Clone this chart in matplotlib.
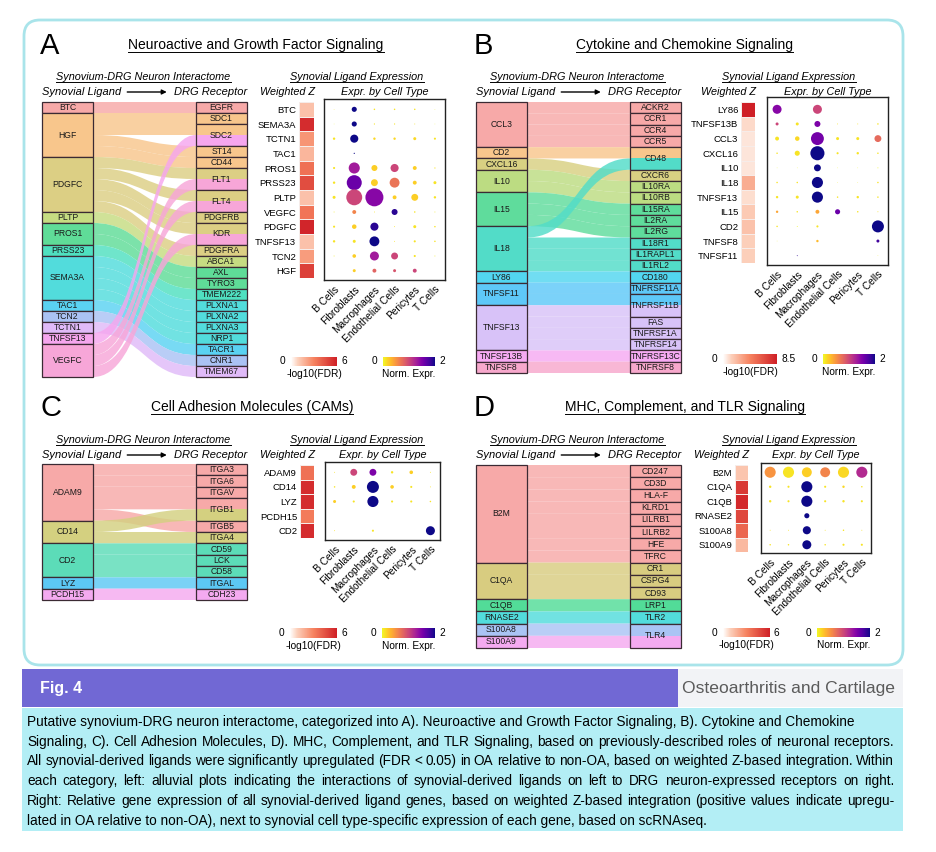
import numpy as np
import matplotlib
matplotlib.use("Agg")
import matplotlib.pyplot as plt
from matplotlib.path import Path
from matplotlib.patches import PathPatch, Rectangle, FancyBboxPatch
from matplotlib.colors import LinearSegmentedColormap, Normalize
from matplotlib.cm import ScalarMappable
from matplotlib import font_manager

plt.rcParams['font.family'] = 'Liberation Sans'

# ---------------- data ----------------
cell_types = ["B Cells", "Fibroblasts", "Macrophages", "Endothelial Cells", "Pericytes", "T Cells"]

# A: Neuroactive and Growth Factor Signaling
ligands_A = ["BTC", "HGF", "PDGFC", "PLTP", "PROS1", "PRSS23", "SEMA3A", "TAC1", "TCN2", "TCTN1", "TNFSF13", "VEGFC"]
colors_A = ["#f7a9a8", "#f8c68c", "#dccf84", "#c6dc82", "#5fdc98", "#4fe0c0", "#52dcdc", "#5ad2f2",
            "#aac2f4", "#e0baf8", "#f6a6ee", "#f7a6d8"]
receptors_A = ["EGFR", "SDC1", "SDC2", "ST14", "CD44", "FLT1", "FLT4", "PDGFRB", "KDR", "PDGFRA", "ABCA1",
               "AXL", "TYRO3", "TMEM222", "PLXNA1", "PLXNA2", "PLXNA3", "NRP1", "TACR1", "CNR1", "TMEM67"]
links_A = [("BTC", "EGFR"), ("HGF", "SDC1"), ("HGF", "SDC2"), ("HGF", "ST14"), ("HGF", "CD44"),
           ("PDGFC", "FLT1"), ("PDGFC", "FLT4"), ("PDGFC", "PDGFRB"), ("PDGFC", "KDR"), ("PDGFC", "PDGFRA"),
           ("PLTP", "ABCA1"), ("PROS1", "AXL"), ("PROS1", "TYRO3"), ("PRSS23", "TMEM222"),
           ("SEMA3A", "PLXNA1"), ("SEMA3A", "PLXNA2"), ("SEMA3A", "PLXNA3"), ("SEMA3A", "NRP1"),
           ("TAC1", "TACR1"), ("TCN2", "CNR1"), ("TCTN1", "TMEM67"), ("TNFSF13", "SDC2"),
           ("VEGFC", "FLT1"), ("VEGFC", "FLT4"), ("VEGFC", "KDR")]
dot_genes_A = ["BTC", "SEMA3A", "TCTN1", "TAC1", "PROS1", "PRSS23", "PLTP", "VEGFC", "PDGFC", "TNFSF13", "TCN2", "HGF"]
fdr_A = [1.3, 5.6, 2.5, 1.6, 3.5, 4.6, 1.3, 3.4, 5.8, 1.3, 2.3, 5.0]
expr_A = [[0.1, 2.0, 0.1, 0.1, 0.1, 0.05],
          [0.0, 2.0, 0.1, 0.1, 0.1, 0.0],
          [0.1, 2.0, 0.15, 0.15, 0.15, 0.1],
          [0.0, 2.0, 0.0, 0.0, 0.0, 0.0],
          [0.1, 1.3, 0.2, 1.0, 0.2, 0.1],
          [0.1, 1.6, 0.2, 0.7, 0.2, 0.1],
          [0.1, 1.0, 1.45, 0.2, 0.2, 0.1],
          [0.05, 0.6, 0.1, 1.9, 0.1, 0.05],
          [0.1, 0.2, 1.9, 0.1, 0.1, 0.1],
          [0.1, 0.1, 2.0, 0.1, 0.1, 0.1],
          [0.05, 0.2, 1.3, 1.0, 0.1, 0.05],
          [0.0, 0.2, 0.8, 0.9, 1.0, 0.0]]
pct_A = [[2, 17, 5, 5, 5, 2],
         [2, 17, 4, 4, 3, 2],
         [8, 27, 8, 8, 10, 7],
         [0, 4, 0, 0, 0, 0],
         [7, 37, 20, 27, 13, 4],
         [8, 50, 23, 33, 13, 10],
         [10, 53, 60, 13, 23, 8],
         [3, 13, 3, 20, 5, 3],
         [7, 15, 27, 3, 10, 5],
         [8, 10, 33, 3, 7, 5],
         [3, 12, 30, 23, 7, 3],
         [0, 10, 13, 10, 13, 0]]

# B: Cytokine and Chemokine Signaling
ligands_B = ["CCL3", "CD2", "CXCL16", "IL10", "IL15", "IL18", "LY86", "TNFSF11", "TNFSF13", "TNFSF13B", "TNFSF8"]
colors_B = ["#f7a9a8", "#f8c68c", "#d8d082", "#bcdc82", "#5fdc9c", "#52dcc8", "#52d6f0", "#5ec8f8",
            "#d8c2f8", "#f6aaf2", "#f7a8cc"]
receptors_B = ["ACKR2", "CCR1", "CCR4", "CCR5", "CD48", "CXCR6", "IL10RA", "IL10RB", "IL15RA", "IL2RA", "IL2RG",
               "IL18R1", "IL1RAPL1", "IL1RL2", "CD180", "TNFRSF11A", "TNFRSF11B", "FAS", "TNFRSF1A", "TNFRSF14",
               "TNFRSF13C", "TNFRSF8"]
links_B = [("CCL3", "ACKR2"), ("CCL3", "CCR1"), ("CCL3", "CCR4"), ("CCL3", "CCR5"), ("CD2", "CD48"),
           ("CXCL16", "CXCR6"), ("IL10", "IL10RA"), ("IL10", "IL10RB"), ("IL15", "IL15RA"), ("IL15", "IL2RA"),
           ("IL15", "IL2RG"), ("IL18", "CD48"), ("IL18", "IL18R1"), ("IL18", "IL1RAPL1"), ("IL18", "IL1RL2"),
           ("LY86", "CD180"), ("TNFSF11", "TNFRSF11A"), ("TNFSF11", "TNFRSF11B"), ("TNFSF13", "TNFRSF11B"),
           ("TNFSF13", "FAS"), ("TNFSF13", "TNFRSF1A"), ("TNFSF13", "TNFRSF14"), ("TNFSF13B", "TNFRSF13C"),
           ("TNFSF8", "TNFRSF8")]
dot_genes_B = ["LY86", "TNFSF13B", "CCL3", "CXCL16", "IL10", "IL18", "TNFSF13", "IL15", "CD2", "TNFSF8", "TNFSF11"]
fdr_B = [8.5, 1.0, 0.7, 0.7, 0.7, 2.6, 0.9, 1.5, 1.8, 1.3, 1.3]
expr_B = [[1.45, 0, 1.0, 0, 0, 0],
          [1.0, 0.1, 1.5, 0.1, 0.1, 0.1],
          [0.1, 0.15, 1.55, 0.1, 0.1, 0.75],
          [0.1, 0.1, 2.0, 0.1, 0.1, 0.1],
          [0, 0, 2.0, 0, 0, 0],
          [0.1, 0.1, 2.0, 0.05, 0.05, 0.1],
          [0.1, 0.1, 2.0, 0.1, 0.1, 0.1],
          [0.4, 0.1, 0.4, 1.6, 0.1, 0.1],
          [0.1, 0, 0.1, 0, 0, 2.0],
          [0.05, 0, 0.3, 0, 0, 1.8],
          [0, 1.9, 0, 0, 0, 0.05]]
pct_B = [[30, 0, 30, 0, 0, 0],
         [10, 10, 20, 3, 3, 5],
         [13, 15, 43, 10, 10, 23],
         [5, 17, 47, 7, 8, 5],
         [2, 2, 23, 2, 2, 3],
         [5, 5, 37, 2, 2, 5],
         [8, 10, 37, 5, 8, 5],
         [8, 5, 13, 17, 5, 3],
         [5, 3, 7, 0, 0, 40],
         [2, 0, 8, 0, 0, 10],
         [0, 3, 0, 0, 0, 2]]

# C: Cell Adhesion Molecules
ligands_C = ["ADAM9", "CD14", "CD2", "LYZ", "PCDH15"]
colors_C = ["#f7a9a8", "#d4d080", "#5cdcb8", "#5cc8f4", "#f4aaf0"]
receptors_C = ["ITGA3", "ITGA6", "ITGAV", "ITGB1", "ITGB5", "ITGA4", "CD59", "LCK", "CD58", "ITGAL", "CDH23"]
links_C = [("ADAM9", "ITGA3"), ("ADAM9", "ITGA6"), ("ADAM9", "ITGAV"), ("ADAM9", "ITGB1"), ("ADAM9", "ITGB5"),
           ("CD14", "ITGB1"), ("CD14", "ITGA4"), ("CD2", "CD59"), ("CD2", "LCK"), ("CD2", "CD58"),
           ("LYZ", "ITGAL"), ("PCDH15", "CDH23")]
dot_genes_C = ["ADAM9", "CD14", "LYZ", "PCDH15", "CD2"]
fdr_C = [3.5, 5.6, 5.6, 3.2, 5.6]
expr_C = [[0.1, 1.0, 1.5, 0.1, 0.2, 0.1],
          [0.1, 0.2, 2.0, 0.2, 0.1, 0.1],
          [0.2, 0.1, 2.0, 0.1, 0.1, 0.1],
          [0, 0, 0, 0, 0, 0],
          [0.1, 0, 0.1, 0, 0, 2.0]]
pct_C = [[3, 23, 23, 8, 12, 3],
         [5, 13, 40, 12, 7, 3],
         [10, 7, 37, 7, 7, 5],
         [0, 0, 0, 0, 0, 0],
         [3, 0, 7, 0, 0, 30]]

# D: MHC, Complement, and TLR Signaling
ligands_D = ["B2M", "C1QA", "C1QB", "RNASE2", "S100A8", "S100A9"]
colors_D = ["#f7a9a8", "#d8cc80", "#52dc98", "#52dcdc", "#aac4f4", "#f4aaf0"]
receptors_D = ["CD247", "CD3D", "HLA-F", "KLRD1", "LILRB1", "LILRB2", "HFE", "TFRC", "CR1", "CSPG4", "CD93",
               "LRP1", "TLR2", "TLR4"]
links_D = [("B2M", "CD247"), ("B2M", "CD3D"), ("B2M", "HLA-F"), ("B2M", "KLRD1"), ("B2M", "LILRB1"),
           ("B2M", "LILRB2"), ("B2M", "HFE"), ("B2M", "TFRC"), ("C1QA", "CR1"), ("C1QA", "CSPG4"),
           ("C1QA", "CD93"), ("C1QB", "LRP1"), ("RNASE2", "TLR2"), ("S100A8", "TLR4"), ("S100A9", "TLR4")]
dot_genes_D = ["B2M", "C1QA", "C1QB", "RNASE2", "S100A8", "S100A9"]
fdr_D = [1.2, 5.2, 5.7, 4.8, 3.8, 1.5]
expr_D = [[0.5, 0.1, 0.2, 0.6, 0.15, 1.2],
          [0.1, 0.1, 2.0, 0.1, 0.15, 0.1],
          [0.1, 0.1, 2.0, 0.1, 0.1, 0.1],
          [0, 0, 2.0, 0, 0, 0],
          [0.1, 0.1, 2.0, 0.1, 0.1, 0.1],
          [0.1, 0.1, 2.0, 0.1, 0.1, 0.1]]
pct_D = [[37, 37, 33, 33, 37, 37],
         [8, 7, 37, 7, 8, 5],
         [8, 7, 37, 7, 8, 7],
         [0, 0, 17, 0, 0, 0],
         [3, 3, 27, 3, 5, 3],
         [5, 5, 30, 5, 7, 7]]

caption_lines = [
    "Putative synovium-DRG neuron interactome, categorized into A). Neuroactive and Growth Factor Signaling, B). Cytokine and Chemokine",
    "Signaling, C). Cell Adhesion Molecules, D). MHC, Complement, and TLR Signaling, based on previously-described roles of neuronal receptors.",
    "All synovial-derived ligands were significantly upregulated (FDR < 0.05) in OA relative to non-OA, based on weighted Z-based integration. Within",
    "each category, left: alluvial plots indicating the interactions of synovial-derived ligands on left to DRG neuron-expressed receptors on right.",
    "Right: Relative gene expression of all synovial-derived ligand genes, based on weighted Z-based integration (positive values indicate upregu-",
    "lated in OA relative to non-OA), next to synovial cell type-specific expression of each gene, based on scRNAseq.",
]

# ---------------- figure ----------------
W, H = 936, 852
fig = plt.figure(figsize=(W / 100, H / 100), dpi=100)
bg = fig.add_axes([0, 0, 1, 1])
bg.set_xlim(0, W)
bg.set_ylim(H, 0)
bg.axis('off')
renderer = fig.canvas.get_renderer()

fdr_cmap = LinearSegmentedColormap.from_list(
    'wz', [(0, '#ffffff'), (0.15, '#fcd0bb'), (0.5, '#f6825f'), (1, '#cf1f26')])
edge = '#3b2a33'


def px_axes(x0, y0, x1, y1):
    return fig.add_axes([x0 / W, 1 - y1 / H, (x1 - x0) / W, (y1 - y0) / H])


def underlined(x, y, s, **kw):
    t = bg.text(x, y, s, ha='center', va='center', **kw)
    bb = t.get_window_extent(renderer=renderer)
    yl = H - bb.y0 + 0.3
    bg.plot([bb.x0, bb.x1], [yl, yl], color='black', lw=0.7)


def alluvial(box, ligands, colors, receptors, links, colw=51):
    x0, y0, x1, y1 = box
    ax = px_axes(x0, y0, x1, y1)
    total = len(links)
    ax.set_xlim(0, 1)
    ax.set_ylim(total, 0)
    ax.axis('off')
    w = colw / (x1 - x0)
    col = dict(zip(ligands, colors))

    lpos, lspan, y = {}, {}, 0
    for l in ligands:
        start = y
        for k in sorted([k for k in links if k[0] == l], key=lambda k: receptors.index(k[1])):
            lpos[k] = y
            y += 1
        lspan[l] = (start, y)
    rpos, rspan, y = {}, {}, 0
    for r in receptors:
        start = y
        for k in sorted([k for k in links if k[1] == r], key=lambda k: ligands.index(k[0])):
            rpos[k] = y
            y += 1
        rspan[r] = (start, y)

    codes = [Path.MOVETO, Path.CURVE4, Path.CURVE4, Path.CURVE4, Path.LINETO,
             Path.CURVE4, Path.CURVE4, Path.CURVE4, Path.CLOSEPOLY]
    for k in links:
        a, b = lpos[k], rpos[k]
        verts = [(w, a), (0.5, a), (0.5, b), (1 - w, b), (1 - w, b + 1),
                 (0.5, b + 1), (0.5, a + 1), (w, a + 1), (w, a)]
        ax.add_patch(PathPatch(Path(verts, codes), fc=col[k[0]], ec='none', alpha=0.82))

    for l in ligands:
        s, e = lspan[l]
        ax.add_patch(Rectangle((0, s), w, e - s, fc=col[l], ec=edge, lw=0.9, clip_on=False))
        ax.text(w / 2, (s + e) / 2, l, ha='center', va='center', fontsize=6.2, color='#1a1a1a')
    for r in receptors:
        s, e = rspan[r]
        for k in links:
            if k[1] == r:
                ax.add_patch(Rectangle((1 - w, rpos[k]), w, 1, fc=col[k[0]], ec='none'))
        ax.add_patch(Rectangle((1 - w, s), w, e - s, fc='none', ec=edge, lw=0.9, clip_on=False))
        ax.text(1 - w / 2, (s + e) / 2, r, ha='center', va='center', fontsize=6.2, color='#1a1a1a')


def alluvial_header(xl, xr, y_top):
    underlined((xl + xr) / 2 - 1, y_top, "Synovium-DRG Neuron Interactome", fontsize=7.8, style='italic')
    t1 = bg.text(xl, y_top + 15, "Synovial Ligand", ha='left', va='center', fontsize=8, style='italic')
    t2 = bg.text(xr, y_top + 15, "DRG Receptor", ha='right', va='center', fontsize=8, style='italic')
    a0 = t1.get_window_extent(renderer).x1 + 6
    a1 = t2.get_window_extent(renderer).x0 - 7
    bg.annotate('', xy=(a1, y_top + 15), xytext=(a0, y_top + 15),
                arrowprops=dict(arrowstyle='-|>', color='black', lw=1, mutation_scale=7,
                                shrinkA=0, shrinkB=0))


def ligand_expression(genes, fdr, vmax_fdr, expr, pct, heat_box, dot_box, title_x, y_top):
    hx0, hy0, hx1, hy1 = heat_box
    dx0, dy0, dx1, dy1 = dot_box
    n = len(genes)
    underlined(title_x, y_top, "Synovial Ligand Expression", fontsize=7.8, style='italic')
    bg.text(hx1 + 1, y_top + 15, "Weighted Z", ha='right', va='center', fontsize=7.8, style='italic')
    bg.text((dx0 + dx1) / 2, y_top + 15, "Expr. by Cell Type", ha='center', va='center', fontsize=7.8,
            style='italic')

    hax = px_axes(hx0, hy0, hx1, hy1)
    hax.pcolormesh(np.array(fdr)[:, None], cmap=fdr_cmap, vmin=0, vmax=vmax_fdr,
                   edgecolors='#f6ece9', linewidth=0.5)
    hax.set_xlim(0, 1)
    hax.set_ylim(n, 0)
    hax.set_xticks([])
    hax.set_yticks(np.arange(n) + 0.5, genes, fontsize=6.8)
    hax.tick_params(length=0, pad=2)
    for s in hax.spines.values():
        s.set_visible(False)

    dax = px_axes(dx0, dy0, dx1, dy1)
    rh = (hy1 - hy0) / n
    ex = np.array(expr, float)
    pc = np.array(pct, float)
    rows, cols = np.nonzero(pc > 0)
    dax.scatter(cols, rows, s=(pc[rows, cols] * 0.216) ** 2, c=ex[rows, cols],
                cmap='plasma_r', vmin=0, vmax=2, linewidths=0)
    dax.set_xlim(-0.5, 5.5)
    dax.set_ylim((dy1 - hy0) / rh - 0.5, (dy0 - hy0) / rh - 0.5)
    dax.set_yticks([])
    dax.set_xticks(range(len(cell_types)), cell_types, rotation=45, ha='right',
                   rotation_mode='anchor', fontsize=7.3)
    dax.tick_params(axis='x', length=0, pad=3)
    for s in dax.spines.values():
        s.set_linewidth(1)
        s.set_color('#222222')


def legend_bars(reds_box, vmax_fdr, vmax_label, plasma_box):
    for (x0, y0, x1, y1), cmap, vmax, lo, hi, lab in [
            (reds_box, fdr_cmap, vmax_fdr, "0", vmax_label, "-log10(FDR)"),
            (plasma_box, plt.get_cmap('plasma_r'), 2, "0", "2", "Norm. Expr.")]:
        cax = px_axes(x0, y0, x1, y1)
        cb = fig.colorbar(ScalarMappable(Normalize(0, vmax), cmap), cax=cax, orientation='horizontal')
        cb.outline.set_visible(False)
        cb.set_ticks([])
        yc = (y0 + y1) / 2
        bg.text(x0 - 6, yc, lo, ha='right', va='center', fontsize=7.3)
        bg.text(x1 + 4, yc, hi, ha='left', va='center', fontsize=7.3)
        bg.text((x0 + x1) / 2, y1 + 8, lab, ha='center', va='center', fontsize=7.3)


# frame and bands
bg.add_patch(FancyBboxPatch((24, 20), 879, 645, boxstyle='round,pad=0,rounding_size=16',
                            fc='white', ec='#a9e4ea', lw=2))
bg.add_patch(Rectangle((22, 669), 656, 38, fc='#7168d4', ec='none'))
bg.add_patch(Rectangle((678, 669), 225, 38, fc='#f2f3f6', ec='none'))
bg.add_patch(Rectangle((22, 708), 881, 123, fc='#b3eef5', ec='none'))

# panel titles
for letter, lx, ly, title, tx in [("A", 40, 46, "Neuroactive and Growth Factor Signaling", 256),
                                   ("B", 474, 46, "Cytokine and Chemokine Signaling", 684),
                                   ("C", 40, 408, "Cell Adhesion Molecules (CAMs)", 252),
                                   ("D", 474, 408, "MHC, Complement, and TLR Signaling", 685)]:
    bg.text(lx, ly, letter, ha='left', va='center', fontsize=21)
    underlined(tx, ly - 1, title, fontsize=10)

# panel A
alluvial_header(42, 247, 77)
alluvial((42, 102, 247, 377), ligands_A, colors_A, receptors_A, links_A)
ligand_expression(dot_genes_A, fdr_A, 6, expr_A, pct_A, (299, 102, 314, 278), (324, 99, 445, 280), 357, 77)
legend_bars((291, 357, 337, 366), 6, "6", (383, 357, 435, 366))

# panel B
alluvial_header(476, 681, 77)
alluvial((476, 102, 681, 373), ligands_B, colors_B, receptors_B, links_B)
ligand_expression(dot_genes_B, fdr_B, 8.5, expr_B, pct_B, (741, 102, 755, 263), (767, 97, 888, 265), 789, 77)
legend_bars((723, 354, 777, 364), 8.5, "8.5", (823, 354, 875, 364))

# panel C
alluvial_header(42, 247, 440)
alluvial((42, 464, 247, 600), ligands_C, colors_C, receptors_C, links_C)
ligand_expression(dot_genes_C, fdr_C, 6, expr_C, pct_C, (300, 465, 314, 538), (325, 462, 440, 540), 357, 440)
legend_bars((290, 628, 337, 638), 6, "6", (382, 628, 435, 638))

# panel D
alluvial_header(476, 681, 440)
alluvial((476, 465, 681, 648), ligands_D, colors_D, receptors_D, links_D)
ligand_expression(dot_genes_D, fdr_D, 6, expr_D, pct_D, (735, 465, 748, 552), (761, 463, 871, 553), 789, 440)
legend_bars((723, 628, 770, 637), 6, "6", (817, 628, 870, 637))

# footer band
names = {f.name for f in font_manager.fontManager.ttflist}
cap_font = 'Liberation Sans Narrow' if 'Liberation Sans Narrow' in names else 'Liberation Sans'

bg.text(40, 688, "Fig. 4", ha='left', va='center', fontsize=11.5, fontweight='bold', color='white')
probe = bg.text(0, 0, "Osteoarthritis and Cartilage", fontsize=10, family=cap_font)
logo_size = 10 * 214 / probe.get_window_extent(renderer).width
probe.remove()
bg.text(895, 689, "Osteoarthritis and Cartilage", ha='right', va='center', fontsize=logo_size,
        family=cap_font, color='#5b5b5b')

# caption, justified like the journal layout
probe = bg.text(0, 0, caption_lines[1], fontsize=10, family=cap_font)
cap_size = 10 * 860 / probe.get_window_extent(renderer).width
probe.remove()
left, right = 27, 894
for i, line in enumerate(caption_lines):
    y = 722 + i * 19.7
    if i in (0, len(caption_lines) - 1):
        bg.text(left, y, line, ha='left', va='center', fontsize=cap_size, family=cap_font)
        continue
    words = line.split(' ')
    objs = [bg.text(0, y, wd, ha='left', va='center', fontsize=cap_size, family=cap_font) for wd in words]
    widths = [o.get_window_extent(renderer).width for o in objs]
    gap = (right - left - sum(widths)) / (len(words) - 1)
    x = left
    for o, wd in zip(objs, widths):
        o.set_x(x)
        x += wd + gap

fig.savefig('out.png', dpi=100)
